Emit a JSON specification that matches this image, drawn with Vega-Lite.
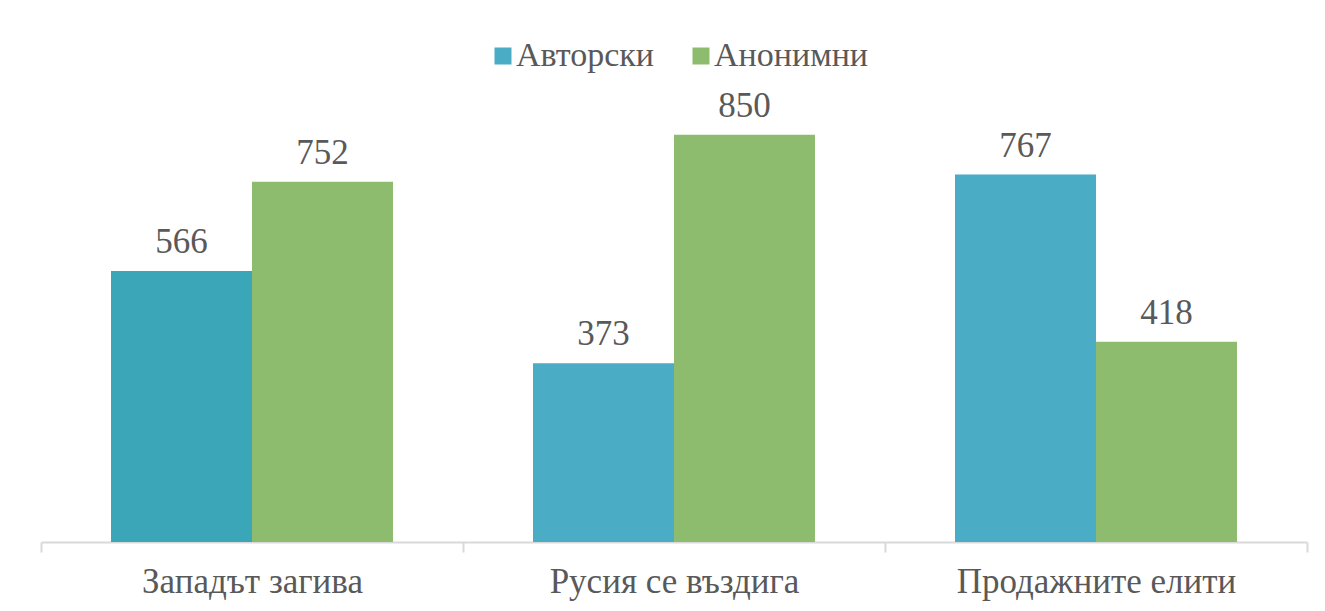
{
  "$schema": "https://vega.github.io/schema/vega-lite/v6.json",
  "width": 1266,
  "height": 479,
  "autosize": {"type": "none"},
  "padding": {"left": 41, "top": 63, "right": 18, "bottom": 69},
  "background": "white",
  "config": {
    "font": "Liberation Serif",
    "view": {"stroke": null}
  },
  "data": {
    "values": [
      {"cat": "Западът загива", "series": "Авторски", "value": 566},
      {"cat": "Западът загива", "series": "Анонимни", "value": 752},
      {"cat": "Русия се въздига", "series": "Авторски", "value": 373},
      {"cat": "Русия се въздига", "series": "Анонимни", "value": 850},
      {"cat": "Продажните елити", "series": "Авторски", "value": 767},
      {"cat": "Продажните елити", "series": "Анонимни", "value": 418}
    ]
  },
  "encoding": {
    "x": {
      "field": "cat", "type": "nominal", "sort": null,
      "scale": {"paddingInner": 0, "paddingOuter": 0},
      "axis": {
        "title": null, "labelAngle": 0, "labelFontSize": 35, "labelColor": "#595959",
        "labelLimit": 0, "labelPadding": 12, "domainColor": "#d9d9d9", "domainWidth": 2,
        "tickColor": "#d9d9d9", "tickWidth": 2, "tickSize": 10, "tickBand": "extent",
        "grid": false
      }
    },
    "xOffset": {"field": "series", "type": "nominal", "sort": ["Авторски", "Анонимни"], "scale": {"paddingInner": 0, "paddingOuter": 0.4965}},
    "y": {"field": "value", "type": "quantitative", "scale": {"domain": [0, 1000]}, "axis": null}
  },
  "layer": [
    {
      "mark": {"type": "bar", "clip": false},
      "encoding": {
        "color": {
          "condition": {"test": "datum.cat === 'Западът загива' && datum.series === 'Авторски'", "value": "#3aa6b7"},
          "field": "series", "type": "nominal", "sort": ["Авторски", "Анонимни"],
          "scale": {"range": ["#4bacc6", "#8ebc6f"]},
          "legend": {
            "title": null, "orient": "none", "direction": "horizontal",
            "legendX": 445, "legendY": -24, "symbolType": "square", "symbolSize": 289,
            "symbolStrokeWidth": 0, "labelFontSize": 34, "labelColor": "#595959",
            "columnPadding": 30, "labelOffset": -4
          }
        }
      }
    },
    {
      "mark": {"type": "text", "baseline": "alphabetic", "dy": -18, "fontSize": 35, "color": "#595959"},
      "encoding": {"text": {"field": "value", "type": "quantitative"}}
    }
  ]
}
